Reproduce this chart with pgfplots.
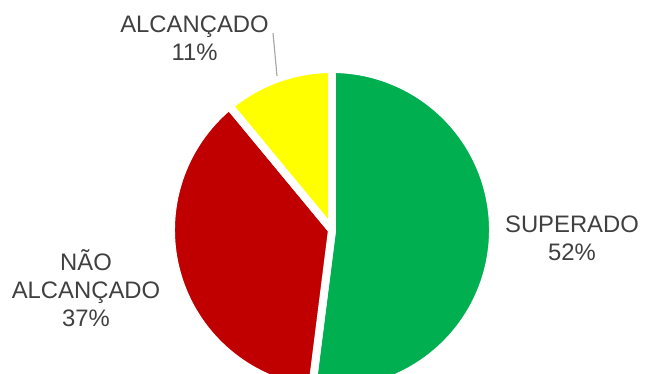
\documentclass[border=0pt]{standalone}
\usepackage{pgfplots}
\usepackage{pgfplotstable}
\pgfplotsset{compat=1.18}
\usepackage{fontspec}
\setmainfont{Liberation Sans}
\definecolor{cgreen}{HTML}{00B050}
\definecolor{cred}{HTML}{C00000}
\definecolor{cyellow}{HTML}{FFFF00}
\definecolor{ctext}{HTML}{404040}
\definecolor{cline}{HTML}{A6A6A6}
\pgfplotstableread{
slice value
SUPERADO 52
NAOALCANCADO 37
ALCANCADO 11
}\piedata
\begin{document}
\begin{tikzpicture}
\pgfplotstablegetelem{0}{value}\of\piedata\pgfmathsetmacro\vA{\pgfplotsretval}
\pgfplotstablegetelem{1}{value}\of\piedata\pgfmathsetmacro\vB{\pgfplotsretval}
\pgfplotstablegetelem{2}{value}\of\piedata\pgfmathsetmacro\vC{\pgfplotsretval}
\pgfmathsetmacro\aA{90}
\pgfmathsetmacro\aB{90-3.6*\vA}
\pgfmathsetmacro\aC{\aB-3.6*\vB}
\pgfmathsetmacro\aD{\aC-3.6*\vC}
\begin{axis}[hide axis, scale only axis, width=16cm, height=9.2384cm,
  xmin=0, xmax=646, ymin=0, ymax=373, clip=true]
\path (axis cs:0,0) rectangle (axis cs:646,373);
\addplot[fill=cgreen, draw=white, line width=5.6pt, line join=round, domain=\aB:\aA, samples=150, variable=\t]
  ({332+161*cos(\t)},{143+161*sin(\t)}) -- (axis cs:332,143) -- cycle;
\addplot[fill=cred, draw=white, line width=5.6pt, line join=round, domain=\aC:\aB, samples=120, variable=\t]
  ({332+161*cos(\t)},{143+161*sin(\t)}) -- (axis cs:332,143) -- cycle;
\addplot[fill=cyellow, draw=white, line width=5.6pt, line join=round, domain=\aD:\aC, samples=60, variable=\t]
  ({332+161*cos(\t)},{143+161*sin(\t)}) -- (axis cs:332,143) -- cycle;
\addplot[cline, line width=0.8pt] coordinates {(273,340) (277,297)};
\node[align=center, text=ctext, font=\fontsize{16.8}{19.6}\selectfont] at (axis cs:572,135) {SUPERADO\\52\%};
\node[align=center, text=ctext, font=\fontsize{16.8}{19.6}\selectfont] at (axis cs:194.5,334.5) {ALCANÇADO\\11\%};
\node[align=center, text=ctext, font=\fontsize{16.8}{19.6}\selectfont] at (axis cs:86,85) {NÃO\\ALCANÇADO\\37\%};
\end{axis}
\end{tikzpicture}
\end{document}
